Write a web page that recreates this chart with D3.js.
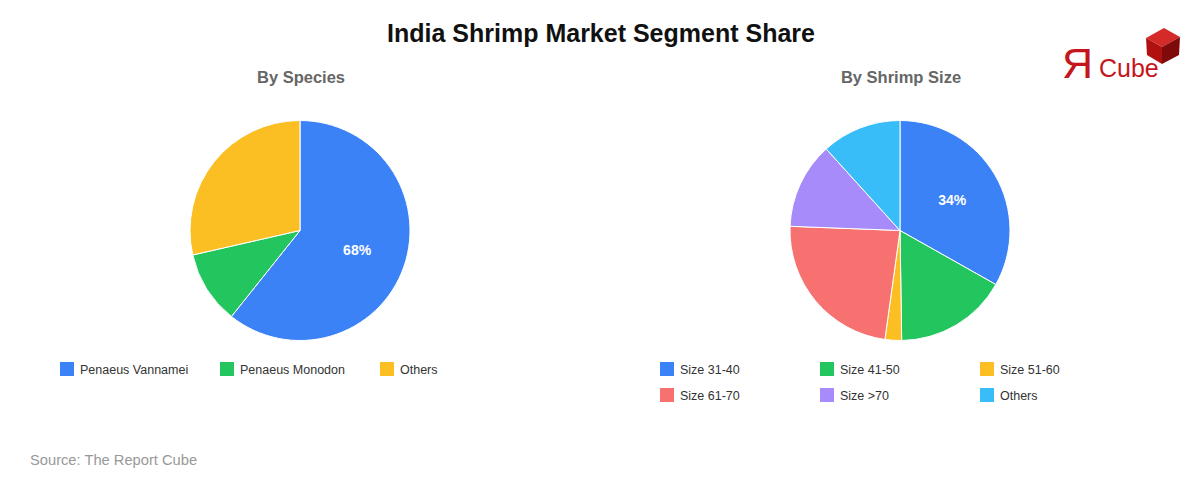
<!DOCTYPE html>
<html>
<head>
<meta charset="utf-8">
<script src="https://cdn.jsdelivr.net/npm/d3@7"></script>
<style>
  html, body { margin: 0; padding: 0; background: #fff; }
  svg { display: block; font-family: "Liberation Sans", Arial, sans-serif; }
</style>
</head>
<body>
<svg id="chart" width="1200" height="480"></svg>
<script>
const speciesLabels = ["Penaeus Vannamei", "Penaeus Monodon", "Others"];
const speciesValues = [68, 12, 32];
const sizeLabels = ["Size 31-40", "Size 41-50", "Size 51-60", "Size 61-70", "Size >70", "Others"];
const sizeValues = [34, 17, 2.5, 24, 13, 12];
const palette = ["#3b82f6", "#22c55e", "#fbbf24", "#f87171", "#a78bfa", "#38bdf8"];

const svg = d3.select("#chart");

svg.append("text").attr("x", 601).attr("y", 42).attr("text-anchor", "middle")
  .attr("font-size", 25).attr("font-weight", "bold").attr("fill", "#111")
  .text("India Shrimp Market Segment Share");

// Logo
const logo = svg.append("g");
logo.append("text").attr("x", 1062).attr("y", 78).attr("font-size", 43)
  .attr("fill", "#c4161c").text("Я");
logo.append("text").attr("x", 1099).attr("y", 77).attr("font-size", 25)
  .attr("fill", "#c4161c").text("Cube");
logo.append("polygon").attr("points", "1146,38 1164,28 1180,37 1162,47").attr("fill", "#d42a2a");
logo.append("polygon").attr("points", "1146,38 1162,47 1162,64 1147,55").attr("fill", "#b01010");
logo.append("polygon").attr("points", "1162,47 1180,37 1179,55 1162,64").attr("fill", "#7e0a0a");

function drawPie(cx, title, labels, values, legendCols) {
  const g = svg.append("g");
  g.append("text").attr("x", cx + 1).attr("y", 83).attr("text-anchor", "middle")
    .attr("font-size", 16.5).attr("font-weight", "bold").attr("fill", "#666").text(title);
  const cy = 230.5, r = 110;
  const color = d3.scaleOrdinal().domain(labels).range(palette);
  const pie = d3.pie().sort(null).value(d => d.v);
  const data = labels.map((l, i) => ({ l, v: values[i] }));
  const arcs = pie(data);
  const arc = d3.arc().innerRadius(0).outerRadius(r);
  const labelArc = d3.arc().innerRadius(r * 0.55).outerRadius(r * 0.55);
  const pg = g.append("g").attr("transform", `translate(${cx},${cy})`);
  pg.selectAll("path").data(arcs).join("path")
    .attr("d", arc).attr("fill", d => color(d.data.l))
    .attr("stroke", "#fff").attr("stroke-width", 1);
  const maxV = d3.max(values);
  pg.selectAll("text").data(arcs.filter(d => d.data.v === maxV)).join("text")
    .attr("transform", d => `translate(${labelArc.centroid(d)})`)
    .attr("text-anchor", "middle").attr("dy", "0.35em")
    .attr("font-size", 14).attr("font-weight", "bold").attr("fill", "#fff")
    .text(d => d.data.v + "%");
  // legend
  const lx = cx - 240;
  const lg = g.append("g");
  labels.forEach((l, i) => {
    const col = i % legendCols, row = Math.floor(i / legendCols);
    const x = lx + col * 160, y = 362 + row * 26;
    lg.append("rect").attr("x", x).attr("y", y).attr("width", 14).attr("height", 14)
      .attr("fill", color(l));
    lg.append("text").attr("x", x + 20).attr("y", y + 11.5).attr("font-size", 12.5)
      .attr("fill", "#333").text(l);
  });
}

drawPie(300, "By Species", speciesLabels, speciesValues, 3);
drawPie(900, "By Shrimp Size", sizeLabels, sizeValues, 3);

svg.append("text").attr("x", 30).attr("y", 465).attr("font-size", 14.7)
  .attr("fill", "#999").text("Source: The Report Cube");
</script>
</body>
</html>
